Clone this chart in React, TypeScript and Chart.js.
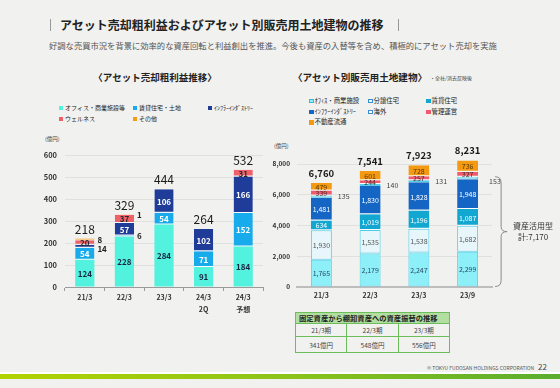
import React, { useEffect, useRef } from "react";
import { Chart, registerables } from "chart.js";
Chart.register(...registerables);

const JP = '"Noto Sans CJK JP", "Noto Sans", sans-serif';

// ---------- page text ----------
const pageTitle = "アセット売却粗利益およびアセット別販売用土地建物の推移";
const pageSubtitle =
  "好調な売買市況を背景に効率的な資産回転と利益創出を推進。今後も資産の入替等を含め、積極的にアセット売却を実施";
const footerText = "© TOKYU FUDOSAN HOLDINGS CORPORATION";
const pageNumber = "22";

// ---------- left chart data ----------
const leftTitle = "〈アセット売却粗利益推移〉";
const leftUnit = "(億円)";
const leftCategories = [["21/3"], ["22/3"], ["23/3"], ["24/3", "2Q"], ["24/3", "予想"]];
const leftSeriesNames = ["オフィス・商業施設等", "賃貸住宅・土地", "ｲﾝﾌﾗｰｲﾝﾀﾞｽﾄﾘｰ", "ウェルネス", "その他"];
const leftOffice = [124, 228, 284, 91, 184];
const leftRental = [54, 6, 54, 71, 152];
const leftInfra = [14, 57, 106, 102, 166];
const leftWellness = [20, 37, 0, 0, 31];
const leftOther = [8, 1, 0, 0, 0];
const leftTotals = ["218", "329", "444", "264", "532"];
const leftYTicks = [0, 100, 200, 300, 400, 500, 600];
const leftColors = ["#52F2DE", "#17ABEB", "#1E3C98", "#EF6068", "#F39C16"];
const leftLabelColors = ["#1b2540", "#ffffff", "#ffffff", "#2a2a2a", "#2a2a2a"];

// ---------- right chart data ----------
const rightTitle = "〈アセット別販売用土地建物〉";
const rightNote = "・全社/消去反映後";
const rightUnit = "(億円)";
const rightCategories = ["21/3", "22/3", "23/3", "23/9"];
const rightSeriesNames = ["ｵﾌｨｽ・商業施設", "分譲住宅", "賃貸住宅", "ｲﾝﾌﾗｰｲﾝﾀﾞｽﾄﾘｰ", "海外", "管理運営", "不動産流通"];
const rightOffice = [1765, 2179, 2247, 2299];
const rightCondo = [1930, 1535, 1538, 1682];
const rightRental = [634, 1019, 1196, 1087];
const rightInfra = [1481, 1830, 1828, 1948];
const rightOverseas = [135, 140, 131, 153];
const rightMgmt = [339, 244, 257, 327];
const rightBrokerage = [479, 601, 728, 736];
const rightTotals = ["6,760", "7,541", "7,923", "8,231"];
const rightYTicks = [0, 2000, 4000, 6000, 8000];
const rightColors = ["#8DEFF7", "#E6F6FB", "#12A7D0", "#1565C4", "#FFFFFF", "#EF5B6C", "#F39A12"];
const rightBorders = ["#4FD3EC", "#4FCDEA", "#ffffff", "#ffffff", "#4FCDEA", "#ffffff", "#ffffff"];
const rightLabelColors = ["#2c4a66", "#555555", "#ffffff", "#ffffff", "#444444", "#4a2a2a", "#5a3500"];
const bracketLabel = ["資産活用型", "計:7,170"];

// ---------- table ----------
const tableTitle = "固定資産から棚卸資産への資産振替の推移";
const tablePeriods = ["21/3期", "22/3期", "23/3期"];
const tableValues = ["341億円", "548億円", "556億円"];

// ---------- plugins ----------
const leftLabelPlugin = {
  id: "leftLabels",
  afterDatasetsDraw(chart: any) {
    const ctx = chart.ctx;
    ctx.save();
    ctx.textBaseline = "middle";
    for (let i = 0; i < leftCategories.length; i++) {
      let top = Infinity;
      let cx = 0;
      let right = 0;
      const outs: { t: string; y: number }[] = [];
      chart.data.datasets.forEach((ds: any, di: number) => {
        const el: any = chart.getDatasetMeta(di).data[i];
        const v = ds.data[i];
        if (!el || !v) return;
        top = Math.min(top, el.y, el.base);
        cx = el.x;
        right = el.x + el.width / 2;
        const cy = (el.y + el.base) / 2;
        if (v < 15) outs.push({ t: String(v), y: cy });
        else {
          ctx.font = `bold 8px ${JP}`;
          ctx.fillStyle = leftLabelColors[di];
          ctx.textAlign = "center";
          ctx.fillText(String(v), cx, cy + 0.5);
        }
      });
      outs.sort((a, b) => a.y - b.y);
      for (let k = 1; k < outs.length; k++) {
        if (outs[k].y - outs[k - 1].y < 9) outs[k].y = outs[k - 1].y + 9;
      }
      ctx.font = `bold 8px ${JP}`;
      ctx.fillStyle = "#222";
      ctx.textAlign = "left";
      outs.forEach((o) => ctx.fillText(o.t, right + 3, o.y));
      ctx.font = `12px ${JP}`;
      ctx.fillStyle = "#1a1a1a";
      ctx.textAlign = "center";
      ctx.fillText(leftTotals[i], cx, top - 9.5);
    }
    ctx.restore();
  },
};

const rightLabelPlugin = {
  id: "rightLabels",
  afterDatasetsDraw(chart: any) {
    const ctx = chart.ctx;
    ctx.save();
    ctx.textBaseline = "middle";
    let lastRight = 0;
    let bracketTop = 0;
    let bracketBottom = 0;
    for (let i = 0; i < rightCategories.length; i++) {
      let top = Infinity;
      let cx = 0;
      let right = 0;
      chart.data.datasets.forEach((ds: any, di: number) => {
        const el: any = chart.getDatasetMeta(di).data[i];
        const v = ds.data[i];
        if (!el || !v) return;
        top = Math.min(top, el.y, el.base);
        cx = el.x;
        right = el.x + el.width / 2;
        const cy = (el.y + el.base) / 2;
        const txt = v.toLocaleString("en-US");
        ctx.font = `7px ${JP}`;
        if (di === 4) {
          ctx.fillStyle = "#444";
          ctx.textAlign = "left";
          const last = i === rightCategories.length - 1;
          ctx.fillText(txt, right + (last ? 11 : 6), cy + (last ? 3 : 0));
        } else {
          ctx.fillStyle = rightLabelColors[di];
          ctx.textAlign = "center";
          ctx.fillText(txt, cx, cy + 0.5);
        }
        if (i === rightCategories.length - 1) {
          if (di === 4) bracketTop = el.y;
          if (di === 0) bracketBottom = el.base;
        }
      });
      ctx.font = `bold 9.5px ${JP}`;
      ctx.fillStyle = "#1a1a1a";
      ctx.textAlign = "center";
      ctx.fillText(rightTotals[i], cx, top - 10);
      lastRight = right;
    }
    // bracket
    const x0 = lastRight + 17;
    const mid = (bracketTop + bracketBottom) / 2;
    ctx.strokeStyle = "#8a8a8a";
    ctx.lineWidth = 1;
    ctx.beginPath();
    ctx.moveTo(x0, bracketTop);
    ctx.quadraticCurveTo(x0 + 6, bracketTop, x0 + 6, bracketTop + 6);
    ctx.lineTo(x0 + 6, mid - 5);
    ctx.quadraticCurveTo(x0 + 6, mid, x0 + 12, mid);
    ctx.quadraticCurveTo(x0 + 6, mid, x0 + 6, mid + 5);
    ctx.lineTo(x0 + 6, bracketBottom - 6);
    ctx.quadraticCurveTo(x0 + 6, bracketBottom, x0, bracketBottom);
    ctx.stroke();
    ctx.font = `8px ${JP}`;
    ctx.fillStyle = "#333";
    ctx.textAlign = "center";
    ctx.fillText(bracketLabel[0], x0 + 38, mid - 6);
    ctx.fillText(bracketLabel[1], x0 + 38, mid + 5);
    ctx.restore();
  },
};

// ---------- chart configs ----------
function makeLeft(): any {
  const series = [leftOffice, leftRental, leftInfra, leftWellness, leftOther];
  return {
    type: "bar",
    data: {
      labels: leftCategories,
      datasets: series.map((d, i) => ({
        label: leftSeriesNames[i],
        data: d,
        backgroundColor: leftColors[i],
        borderColor: "#ffffff",
        borderWidth: i === 0 ? 0 : { top: 0, bottom: 1, left: 0, right: 0 },
        borderSkipped: false,
        barPercentage: 0.97,
        categoryPercentage: 0.5,
        clip: false,
      })),
    },
    options: {
      responsive: false,
      animation: false,
      devicePixelRatio: 1,
      layout: { padding: { left: 0, right: 7, top: 25, bottom: 0 } },
      plugins: { legend: { display: false }, tooltip: { enabled: false } },
      scales: {
        x: {
          stacked: true,
          afterFit: (s: any) => {
            s.height = 28;
          },
          grid: { display: true, drawOnChartArea: false, drawTicks: true, tickLength: 4, color: "#9a9a9a", offset: true },
          border: { display: true, color: "#9a9a9a", width: 1 },
          ticks: { padding: 1, color: "#333", font: { family: JP, size: 7, weight: "bold", lineHeight: 1.65 }, maxRotation: 0 },
        },
        y: {
          stacked: true,
          min: 0,
          max: 600,
          afterFit: (s: any) => {
            s.width = 35;
          },
          afterBuildTicks: (s: any) => {
            s.ticks = leftYTicks.map((v) => ({ value: v }));
          },
          grid: { color: "rgba(0,0,0,0.07)", drawTicks: false },
          border: { display: false },
          ticks: { padding: 8, color: "#333", font: { family: JP, size: 7.5, weight: "bold" } },
        },
      },
    },
    plugins: [leftLabelPlugin],
  };
}

function makeRight(): any {
  const series = [rightOffice, rightCondo, rightRental, rightInfra, rightOverseas, rightMgmt, rightBrokerage];
  return {
    type: "bar",
    data: {
      labels: rightCategories,
      datasets: series.map((d, i) => ({
        label: rightSeriesNames[i],
        data: d,
        backgroundColor: rightColors[i],
        borderColor: rightBorders[i],
        borderWidth: [0, 1, 4].includes(i) ? 1 : { top: 0, bottom: 1, left: 0, right: 0 },
        borderSkipped: false,
        barPercentage: 0.86,
        categoryPercentage: 0.5,
        clip: false,
      })),
    },
    options: {
      responsive: false,
      animation: false,
      devicePixelRatio: 1,
      layout: { padding: { left: 0, right: 68, top: 29, bottom: 0 } },
      plugins: { legend: { display: false }, tooltip: { enabled: false } },
      scales: {
        x: {
          stacked: true,
          afterFit: (s: any) => {
            s.height = 18;
          },
          grid: { display: false, drawTicks: false },
          border: { display: true, color: "#bdbdbd", width: 2 },
          ticks: { padding: 4, color: "#333", font: { family: JP, size: 7, weight: "bold" }, maxRotation: 0 },
        },
        y: {
          stacked: true,
          min: 0,
          max: 8000,
          afterFit: (s: any) => {
            s.width = 27;
          },
          afterBuildTicks: (s: any) => {
            s.ticks = rightYTicks.map((v) => ({ value: v }));
          },
          grid: { color: "rgba(0,0,0,0.07)", drawTicks: false },
          border: { display: false },
          ticks: {
            padding: 7,
            color: "#333",
            font: { family: JP, size: 6.5, weight: "bold" },
            callback: (v: any) => Number(v).toLocaleString("en-US"),
          },
        },
      },
    },
    plugins: [rightLabelPlugin],
  };
}

// ---------- components ----------
function ChartBox(props: { left: number; top: number; width: number; height: number; make: () => any }) {
  const ref = useRef<HTMLCanvasElement>(null);
  useEffect(() => {
    const c = new Chart(ref.current as HTMLCanvasElement, props.make());
    return () => c.destroy();
  }, []);
  return (
    <div style={{ position: "absolute", left: props.left, top: props.top, width: props.width, height: props.height }}>
      <canvas ref={ref} width={props.width} height={props.height} style={{ width: props.width, height: props.height, display: "block" }} />
    </div>
  );
}

function Txt(props: {
  x: number;
  y: number;
  size: number;
  bold?: boolean;
  color?: string;
  center?: boolean;
  children: any;
}) {
  return (
    <div
      style={{
        position: "absolute",
        left: props.x,
        top: props.y - props.size * 0.7,
        fontSize: props.size,
        lineHeight: `${props.size * 1.4}px`,
        fontWeight: props.bold ? "bold" : "normal",
        color: props.color || "#222",
        whiteSpace: "nowrap",
        transform: props.center ? "translateX(-50%)" : undefined,
        fontFamily: JP,
      }}
    >
      {props.children}
    </div>
  );
}

function Legend(props: {
  names: string[];
  colors: string[];
  borders: (string | null)[];
  cols: number[];
  rows: number[];
  sq: number;
  size: number;
  gap: number;
}) {
  return (
    <>
      {props.names.map((n, k) => {
        const x = props.cols[k % 3];
        const y = props.rows[Math.floor(k / 3)];
        return (
          <React.Fragment key={k}>
            <div
              style={{
                position: "absolute",
                left: x,
                top: y - props.sq / 2,
                width: props.sq,
                height: props.sq,
                background: props.colors[k],
                boxSizing: "border-box",
                border: props.borders[k] ? `1px solid ${props.borders[k]}` : undefined,
              }}
            />
            <Txt x={x + props.gap} y={y} size={props.size}>
              {n}
            </Txt>
          </React.Fragment>
        );
      })}
    </>
  );
}

export default function App() {
  const green = "#6BBE5A";
  return (
    <div
      style={{
        position: "fixed",
        left: 0,
        top: 0,
        width: 560,
        height: 388,
        background: "#F1F1EF",
        overflow: "hidden",
        fontFamily: JP,
      }}
    >
      {/* title */}
      <div style={{ position: "absolute", left: 50, top: 19, width: 1, height: 12, background: "#999" }} />
      <div style={{ position: "absolute", left: 398, top: 19, width: 1, height: 12, background: "#999" }} />
      <Txt x={60} y={25} size={12} bold color="#222">
        {pageTitle}
      </Txt>
      <Txt x={49} y={46} size={8.3} color="#555">
        {pageSubtitle}
      </Txt>

      {/* left chart */}
      <Txt x={155} y={78} size={9.5} bold center color="#222">
        {leftTitle}
      </Txt>
      <Legend
        names={leftSeriesNames}
        colors={leftColors}
        borders={[null, null, null, null, null]}
        cols={[59, 133, 208]}
        rows={[108.3, 118.7]}
        sq={4}
        size={6}
        gap={6}
      />
      <Txt x={45} y={140} size={5.5} color="#444">
        {leftUnit}
      </Txt>
      <ChartBox left={30} top={130} width={240} height={185} make={makeLeft} />

      {/* right chart */}
      <Txt x={293} y={78} size={9.6} bold color="#222">
        {rightTitle}
      </Txt>
      <Txt x={430} y={77} size={5} color="#444">
        {rightNote}
      </Txt>
      <Legend
        names={rightSeriesNames}
        colors={rightColors}
        borders={["#3BB7DA", "#3A8FD0", null, null, "#3A8FD0", null, null]}
        cols={[309, 368, 426]}
        rows={[101, 112, 122.7]}
        sq={4.5}
        size={6.4}
        gap={5.5}
      />
      <Txt x={274} y={147} size={5.5} color="#444">
        {rightUnit}
      </Txt>
      <ChartBox left={270} top={135} width={290} height={170} make={makeRight} />

      {/* table */}
      <div
        style={{
          position: "absolute",
          left: 295,
          top: 312,
          width: 155,
          height: 41,
          boxSizing: "border-box",
          border: `1px solid ${green}`,
          fontFamily: JP,
        }}
      >
        <div
          style={{
            height: 10,
            background: "#B3DEA1",
            borderBottom: `1px solid ${green}`,
            fontSize: 7.3,
            fontWeight: "bold",
            lineHeight: "10px",
            paddingLeft: 3,
            color: "#222",
            whiteSpace: "nowrap",
          }}
        >
          {tableTitle}
        </div>
        <div style={{ display: "flex", height: 12, borderBottom: `1px solid ${green}` }}>
          {tablePeriods.map((p, i) => (
            <div
              key={i}
              style={{
                flex: 1,
                textAlign: "center",
                fontSize: 6.5,
                lineHeight: "12px",
                color: "#444",
                borderRight: i < 2 ? `1px solid ${green}` : undefined,
              }}
            >
              {p}
            </div>
          ))}
        </div>
        <div style={{ display: "flex", height: 16 }}>
          {tableValues.map((p, i) => (
            <div
              key={i}
              style={{
                flex: 1,
                textAlign: "center",
                fontSize: 6.5,
                lineHeight: "16px",
                color: "#444",
                borderRight: i < 2 ? `1px solid ${green}` : undefined,
              }}
            >
              {p}
            </div>
          ))}
        </div>
      </div>

      {/* footer */}
      <Txt x={427} y={367} size={5} color="#555">
        {footerText}
      </Txt>
      <Txt x={538} y={366.5} size={8} color="#444">
        {pageNumber}
      </Txt>
      <div style={{ position: "absolute", left: 0, top: 372, width: 560, height: 1.5, background: "#ffffff" }} />
      <div
        style={{
          position: "absolute",
          left: 0,
          top: 373.5,
          width: 560,
          height: 5.5,
          background: "linear-gradient(to right, #B3D300, #8DC41A 50%, #5BAD2E)",
        }}
      />
    </div>
  );
}
